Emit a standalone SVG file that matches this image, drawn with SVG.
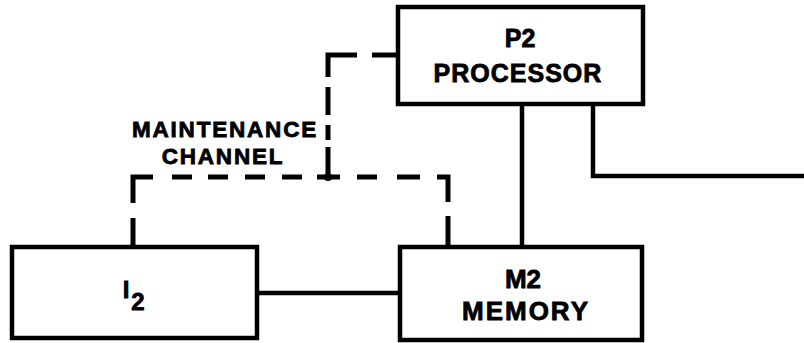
<svg xmlns="http://www.w3.org/2000/svg" width="804" height="343" viewBox="0 0 804 343">
<style>
.box{fill:#fff;stroke:#000;stroke-width:4.5}
.ln{fill:none;stroke:#000;stroke-width:4.5;stroke-linecap:butt;stroke-linejoin:miter}
.ds{fill:none;stroke:#000;stroke-width:5;stroke-linecap:butt}
.t{font-family:"Liberation Sans",Arial,sans-serif;font-weight:bold;fill:#000;stroke:#000;stroke-width:0.8;text-anchor:middle}
</style>
<rect width="804" height="343" fill="#fff"/>
<g id="connectors">
<path class="ln" d="M522 104V247"/>
<path class="ln" d="M593 104V176H804"/>
<path class="ln" d="M257 293H400"/>
<g id="maintenance-channel">
<path class="ds" d="M133 203V177H153"/>
<path class="ds" d="M172 177H192M208 177H228M245 177H265M282 177H302M317 177H340M357 177H377M397 177H420"/>
<path class="ds" d="M437 177H448V202"/>
<path class="ds" d="M133 218V247M448 216V247"/>
<path class="ds" d="M328 77V55H357M372 55H398"/>
<path class="ds" d="M328 87V115M328 125V140M328 147V177"/>
<circle cx="328" cy="177" r="4" fill="#000"/>
</g>
</g>
<g id="p2">
<rect class="box" x="398" y="7" width="245" height="97"/>
<text class="t" x="520" y="47" font-size="25">P2</text>
<text class="t" x="518" y="82" font-size="25" letter-spacing="1">PROCESSOR</text>
</g>
<g id="m2">
<rect class="box" x="400" y="247" width="242" height="93"/>
<text class="t" x="523" y="288" font-size="26">M2</text>
<text class="t" x="526" y="320" font-size="26" letter-spacing="2">MEMORY</text>
</g>
<g id="i2">
<rect class="box" x="12" y="247" width="245" height="91"/>
<text class="t" x="126" y="298" font-size="24">I</text>
<text class="t" x="138" y="310" font-size="24">2</text>
</g>
<g id="label">
<text class="t" x="225" y="137" font-size="22.5" letter-spacing="1.8">MAINTENANCE</text>
<text class="t" x="223" y="164" font-size="22.5" letter-spacing="1.8">CHANNEL</text>
</g>
</svg>
